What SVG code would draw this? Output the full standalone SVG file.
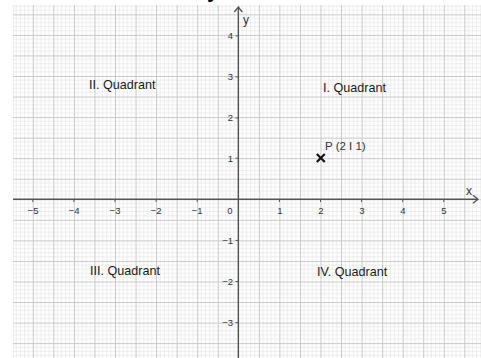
<svg xmlns="http://www.w3.org/2000/svg" width="481" height="358" viewBox="0 0 481 358">
<style>
.lbl{font-family:"Liberation Sans",Arial,sans-serif;fill:#333;}
.num{font-size:9.5px;}
.quad{font-size:12.6px;fill:#1a1a1a;}
.axis{stroke:#555;stroke-width:1.4;fill:none;}
.tick{stroke:#555;stroke-width:1;}
</style>
<defs>
<pattern id="grid" patternUnits="userSpaceOnUse" x="238.3" y="199.3" width="20.55" height="20.55">
<g stroke="#e8e8e8" stroke-width="0.8">
<line x1="4.11" y1="0" x2="4.11" y2="20.55"/><line x1="8.22" y1="0" x2="8.22" y2="20.55"/>
<line x1="12.33" y1="0" x2="12.33" y2="20.55"/><line x1="16.44" y1="0" x2="16.44" y2="20.55"/>
<line y1="4.11" x1="0" y2="4.11" x2="20.55"/><line y1="8.22" x1="0" y2="8.22" x2="20.55"/>
<line y1="12.33" x1="0" y2="12.33" x2="20.55"/><line y1="16.44" x1="0" y2="16.44" x2="20.55"/>
</g>
<g stroke="#c8c8c8" stroke-width="1">
<line x1="0.5" y1="0" x2="0.5" y2="20.55"/><line x1="0" y1="0.5" x2="20.55" y2="0.5"/>
</g>
</pattern>
</defs>
<rect width="481" height="358" fill="#fff"/>
<text x="207" y="-3" font-family="Liberation Sans,Arial,sans-serif" font-weight="bold" font-size="22" fill="#000">y</text>
<rect x="13" y="5" width="468" height="353" fill="url(#grid)"/>
<g id="connectors">
<line class="axis" x1="13" y1="199.3" x2="478" y2="199.3"/>
<polyline class="axis" points="473,195.3 478,199.3 473,203.3"/>
<line class="axis" x1="238.3" y1="358" x2="238.3" y2="7"/>
<polyline class="axis" points="234.3,12 238.3,7 242.3,12"/>
</g>
<g id="ticks">
<path class="tick" d="M32.8,199v3 M73.9,199v3 M115,199v3 M156.1,199v3 M197.2,199v3 M279.4,199v3 M320.5,199v3 M361.6,199v3 M402.7,199v3 M443.8,199v3 M235.5,35.9h3 M235.5,76.9h3 M235.5,118h3 M235.5,158.2h3 M235.5,240.4h3 M235.5,281.5h3 M235.5,322.6h3"/>
</g>
<g id="xlabels" class="lbl num" text-anchor="middle">
<text x="33" y="214">−5</text>
<text x="74" y="214">−4</text>
<text x="115" y="214">−3</text>
<text x="156" y="214">−2</text>
<text x="197" y="214">−1</text>
<text x="230" y="214">0</text>
<text x="280" y="214">1</text>
<text x="321" y="214">2</text>
<text x="362" y="214">3</text>
<text x="403" y="214">4</text>
<text x="444" y="214">5</text>
</g>
<g id="ylabels" class="lbl num" text-anchor="end">
<text x="233" y="39">4</text>
<text x="233" y="80">3</text>
<text x="233" y="121">2</text>
<text x="233" y="162">1</text>
<text x="233" y="244">−1</text>
<text x="233" y="285">−2</text>
<text x="233" y="326">−3</text>
</g>
<text class="lbl" x="243" y="24" font-size="12">y</text>
<text class="lbl" x="466" y="195" font-size="12">x</text>
<g id="q1"><text class="lbl quad" x="323" y="92">I. Quadrant</text></g>
<g id="q2"><text class="lbl quad" x="89" y="89">II. Quadrant</text></g>
<g id="q3"><text class="lbl quad" x="90" y="275">III. Quadrant</text></g>
<g id="q4"><text class="lbl quad" x="317" y="276">IV. Quadrant</text></g>
<g id="P">
<path d="M316.8,154 l8,8 M324.8,154 l-8,8" stroke="#111" stroke-width="2.2"/>
<text class="lbl" x="325" y="150" font-size="11.5" fill="#111">P (2 I 1)</text>
</g>
</svg>
